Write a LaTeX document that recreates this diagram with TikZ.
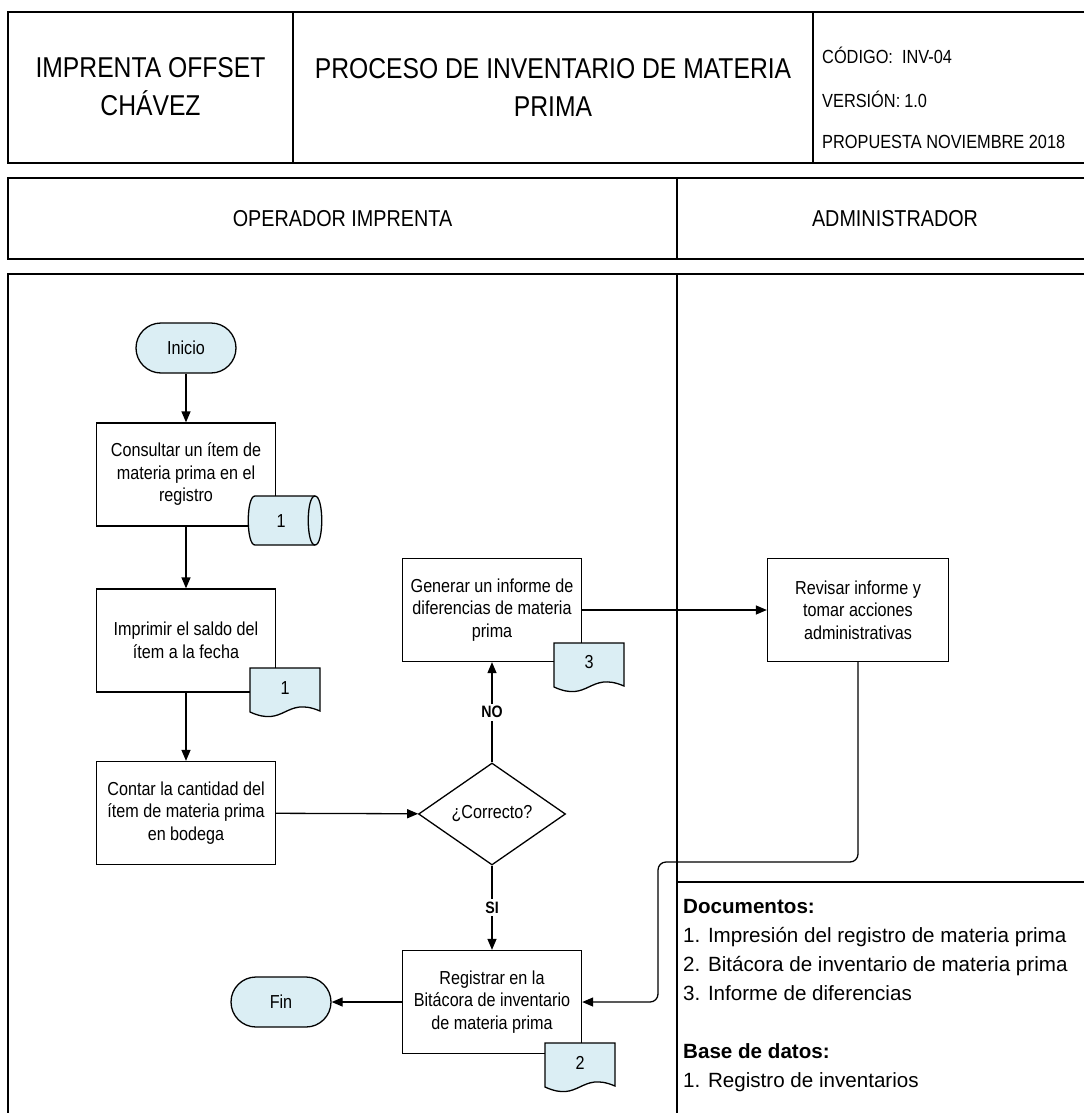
\documentclass[tikz,border=0pt]{standalone}
\usepackage{fontspec}
\setmainfont{Liberation Sans}
\newfontfamily\nf{Liberation Sans}[FakeStretch=0.86]
\usetikzlibrary{arrows.meta,shapes.geometric}
\definecolor{docblue}{RGB}{219,238,244}
\newcommand\docshp[2]{\begin{scope}[shift={(#1,#2)}]\draw[shp] (0,0) -- (70,0) -- (70,43) .. controls (35,28) and (35,60) .. (0,44) -- cycle;\end{scope}}
\begin{document}
\begin{tikzpicture}[x=1pt,y=-1pt,
  frame/.style={line width=1.7pt},
  shp/.style={draw,line width=1.3pt,fill=docblue},
  box/.style={draw,line width=1.3pt,minimum width=179pt,minimum height=103pt,align=center,inner sep=0pt,font=\nf\fontsize{18.8}{22.5}\selectfont},
  term/.style={draw,line width=1.3pt,fill=docblue,rounded corners=25pt,minimum width=100pt,minimum height=50pt,inner sep=0pt,font=\nf\fontsize{18.8}{22.5}\selectfont},
  dec/.style={draw,diamond,line width=1.3pt,minimum width=147pt,minimum height=102pt,inner sep=0pt,font=\nf\fontsize{18.8}{22.5}\selectfont},
  dlbl/.style={inner sep=0pt,font=\nf\fontsize{18.8}{22.5}\selectfont},
  arr/.style={line width=1.3pt,-{Triangle[length=11pt,width=9pt]}},
  lbl/.style={fill=white,inner sep=2.5pt,font=\nf\bfseries\fontsize{16.5}{18}\selectfont},
  hdr/.style={align=center,inner sep=0pt,font=\nf\fontsize{28.7}{38}\selectfont},
  lane/.style={inner sep=0pt,font=\nf\fontsize{23}{26}\selectfont},
  code/.style={anchor=west,inner sep=0pt,font=\nf\fontsize{19}{22}\selectfont},
  doc/.style={anchor=west,inner sep=0pt,text height=15pt,text depth=4pt,font=\fontsize{20.6}{29}\selectfont}
]
\useasboundingbox (0,0) rectangle (1084,1113);
% frames
\draw[frame] (1084,12) -- (8,12) -- (8,163) -- (1084,163);
\draw[frame] (293,12) -- (293,163);
\draw[frame] (813,12) -- (813,163);
\draw[frame] (1084,178) -- (8,178) -- (8,259) -- (1084,259);
\draw[frame] (677,178) -- (677,259);
\draw[frame] (1084,274) -- (8,274) -- (8,1113);
\draw[frame] (677,274) -- (677,1113);
\draw[frame] (677,882) -- (1084,882);
% header texts
\node[hdr] (h1) at (150.5,87) {IMPRENTA OFFSET\\CHÁVEZ};
\node[hdr] (h2) at (553,87) {PROCESO DE INVENTARIO DE MATERIA\\PRIMA};
\node[code] (k1) at (822,55) {CÓDIGO:\hspace{9pt}INV-04};
\node[code] (k2) at (822,99) {VERSIÓN:\hspace{4pt}1.0};
\node[code] (k3) at (822,142) {PROPUESTA NOVIEMBRE 2018};
\node[lane] (l1) at (342.5,218.5) {OPERADOR IMPRENTA};
\node[lane] (l2) at (895,218.5) {ADMINISTRADOR};
% flow nodes
\node[term] (ini) at (186,348) {Inicio};
\node[box] (c1) at (186,474.5) {Consultar un ítem de\\materia prima en el\\registro};
\node[box] (c2) at (186,640.5) {Imprimir el saldo del\\ítem a la fecha};
\node[box] (c3) at (186,813) {Contar la cantidad del\\ítem de materia prima\\en bodega};
\node[dec] (dc) at (492,814) {¿Correcto?};
\node[box] (gen) at (492,610) {Generar un informe de\\diferencias de materia\\prima};
\node[box,minimum width=181pt] (rev) at (858,610) {Revisar informe y\\tomar acciones\\administrativas};
\node[box] (reg) at (492,1002) {Registrar en la\\Bitácora de inventario\\de materia prima};
\node[term] (fin) at (281,1002) {Fin};
% database symbol
\draw[shp] (255,496) -- (315,496) .. controls (324,496) and (324,545) .. (315,545) -- (255,545) .. controls (246,545) and (246,496) .. (255,496) -- cycle;
\draw[line width=1.3pt] (315,496) .. controls (306,496) and (306,545) .. (315,545);
\node[dlbl] (db1) at (281,521) {1};
% document symbols
\docshp{250}{668}
\node[dlbl] (d1) at (285,688) {1};
\docshp{554}{643}
\node[dlbl] (d3) at (589,662) {3};
\docshp{545}{1043}
\node[dlbl] (d2) at (580,1063) {2};
% connectors
\draw[arr] (ini) -- (c1);
\draw[arr] (c1) -- (c2);
\draw[arr] (c2) -- (c3);
\draw[arr] (c3) -- (dc);
\draw[arr] (dc) -- node[lbl] {NO} (gen);
\draw[arr] (dc) -- node[lbl] {SI} (reg);
\draw[arr] (gen) -- (rev);
\draw[arr] (reg) -- (fin);
\coordinate (kk) at (658,862);
\draw[arr,rounded corners=8pt] (rev.south) |- (kk) |- (reg.east);
% documents list
\node[doc] (t1) at (683,908) {\textbf{Documentos:}};
\node[doc] (t2) at (683,937) {1. Impresión del registro de materia prima};
\node[doc] (t3) at (683,966) {2. Bitácora de inventario de materia prima};
\node[doc] (t4) at (683,995) {3. Informe de diferencias};
\node[doc] (t5) at (683,1053) {\textbf{Base de datos:}};
\node[doc] (t6) at (683,1082) {1. Registro de inventarios};
\end{tikzpicture}
\end{document}
